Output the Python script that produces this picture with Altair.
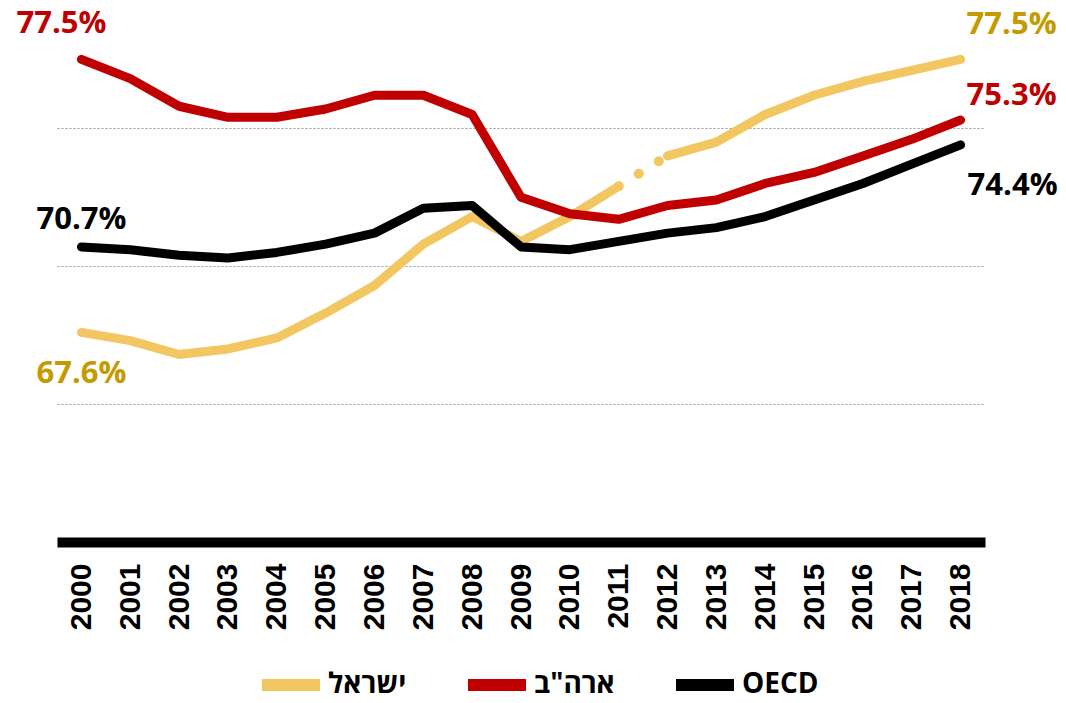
import altair as alt
import pandas as pd

years = list(range(2000, 2019))
israel = [67.6, 67.3, 66.8, 67.0, 67.4, 68.3, 69.3, 70.8, 71.8, 70.9,
          71.8, 72.9, 74.0, 74.5, 75.5, 76.2, 76.7, 77.1, 77.5]
usa = [77.5, 76.8, 75.8, 75.4, 75.4, 75.7, 76.2, 76.2, 75.5, 72.5,
       71.9, 71.7, 72.2, 72.4, 73.0, 73.4, 74.0, 74.6, 75.3]
oecd = [70.7, 70.6, 70.4, 70.3, 70.5, 70.8, 71.2, 72.1, 72.2, 70.7,
        70.6, 70.9, 71.2, 71.4, 71.8, 72.4, 73.0, 73.7, 74.4]

series_names = ["ישראל", 'ארה"ב', "OECD"]
line_colors = ["#F2C661", "#C00000", "#000000"]
label_colors = {"ישראל": "#C49A00", 'ארה"ב': "#C00000", "OECD": "#000000"}
israel_break = 2011  # survey break between 2011 and 2012

rows = []
for y, v in zip(years, israel):
    rows.append({"year": y, "value": v, "series": series_names[0],
                 "seg": "isr_a" if y <= israel_break else "isr_b"})
for y, v in zip(years, usa):
    rows.append({"year": y, "value": v, "series": series_names[1], "seg": "usa"})
for y, v in zip(years, oecd):
    rows.append({"year": y, "value": v, "series": series_names[2], "seg": "oecd"})
df = pd.DataFrame(rows)

gap_df = pd.DataFrame({
    "year": [israel_break, israel_break + 1],
    "value": [israel[years.index(israel_break)], israel[years.index(israel_break + 1)]],
})

x_scale = alt.Scale(type="point", padding=0.5)
y_scale = alt.Scale(domain=[60, 79], nice=False, zero=False)

x_enc = alt.X("year:O", scale=x_scale,
              axis=alt.Axis(title=None, labelAngle=270, labelFont="Liberation Sans",
                            labelFontSize=30, labelFontWeight="bold", labelColor="#000",
                            ticks=False, tickSize=0, labelPadding=21,
                            domainColor="#000", domainWidth=10, grid=False))
y_enc = alt.Y("value:Q", scale=y_scale,
              axis=alt.Axis(title=None, labels=False, ticks=False, domain=False,
                            grid=True, values=[65, 70, 75], gridColor="#999999",
                            gridDash=[2, 2], gridWidth=1))

lines = alt.Chart(df).mark_line(strokeWidth=9, strokeCap="round", strokeJoin="round").encode(
    x=x_enc,
    y=y_enc,
    color=alt.Color("series:N", sort=series_names,
                    scale=alt.Scale(domain=series_names, range=line_colors),
                    legend=alt.Legend(orient="none", legendX=199, legendY=632,
                                      direction="horizontal", title=None,
                                      symbolType="stroke", symbolSize=3364,
                                      symbolStrokeWidth=12,
                                      labelFont="Open Sans", labelFontSize=28,
                                      labelFontWeight="bold", labelColor="#000",
                                      labelOffset=2, columnPadding=37, padding=0)),
    detail="seg:N",
)

gap = alt.Chart(gap_df).mark_line(strokeWidth=10, strokeCap="round",
                                  strokeDash=[0.1, 23.5], color=line_colors[0]).encode(
    x=alt.X("year:O", scale=x_scale),
    y=alt.Y("value:Q", scale=y_scale))


def label(year, value, series, dx, dy):
    d = pd.DataFrame({"year": [year], "value": [value], "txt": [f"{value:.1f}%"]})
    return alt.Chart(d).mark_text(font="Open Sans", fontSize=31, fontWeight="bold",
                                  color=label_colors[series], dx=dx, dy=dy,
                                  align="center", baseline="middle").encode(
        x=alt.X("year:O", scale=x_scale),
        y=alt.Y("value:Q", scale=y_scale),
        text="txt:N")


labels = [
    label(years[0], usa[0], series_names[1], -20, -35),
    label(years[0], oecd[0], series_names[2], 0, -27),
    label(years[0], israel[0], series_names[0], 0, 42),
    label(years[-1], israel[-1], series_names[0], 51, -34),
    label(years[-1], usa[-1], series_names[1], 51, -24),
    label(years[-1], oecd[-1], series_names[2], 52, 41),
]

chart = alt.layer(lines, gap, *labels).properties(
    width=928, height=524,
    background="white",
    autosize=alt.AutoSizeParams(type="none"),
    padding={"left": 49, "top": 10, "right": 73, "bottom": 153},
).configure_view(strokeWidth=0, stroke="transparent")

chart.save("out.html", embed_options={"renderer": "svg", "actions": False})
